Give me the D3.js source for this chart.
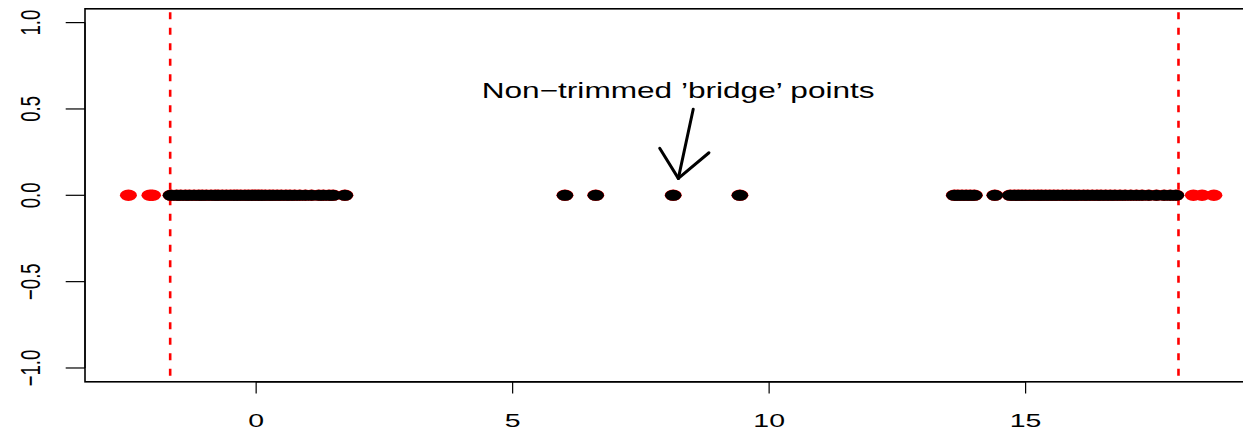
<!DOCTYPE html>
<html><head><meta charset="utf-8">
<script src="https://cdn.jsdelivr.net/npm/d3@7"></script>
<style>html,body{margin:0;padding:0;background:#fff;}svg{display:block;}</style>
</head><body>
<svg id="chart" width="1243" height="433"></svg>
<script>
// ---- data ----
const xValues = [
  -2.49, -2.07, -2.02,
  -1.66, -1.55, -1.47, -1.38, -1.30, -1.21, -1.12, -1.05, -0.97, -0.88, -0.80, -0.74, -0.66, -0.58,
  -0.50, -0.43, -0.37, -0.30, -0.22, -0.15, -0.08, -0.02, 0.05, 0.11, 0.18, 0.26, 0.33, 0.41, 0.49,
  0.58, 0.66, 0.75, 0.85, 0.96, 1.08, 1.22, 1.31, 1.42, 1.50, 1.73,
  6.02, 6.62, 8.13, 9.43,
  13.61, 13.68, 13.76, 13.84, 13.92, 14.00, 14.40, 14.70, 14.78, 14.86, 14.93, 15.00, 15.08, 15.16,
  15.24, 15.31, 15.39, 15.47, 15.55, 15.63, 15.72, 15.80, 15.88, 15.96, 16.04, 16.13, 16.21, 16.30,
  16.39, 16.47, 16.56, 16.65, 16.74, 16.84, 16.94, 17.05, 17.16, 17.27, 17.40, 17.55, 17.70, 17.82, 17.93,
  18.27, 18.44, 18.67
];
const yValue = 0;
const trimBounds = [-1.676, 17.98];
const xTicks = [0, 5, 10, 15];
const yTicks = [-1.0, -0.5, 0.0, 0.5, 1.0];
const yTickLabels = ["\u22121.0", "\u22120.5", "0.0", "0.5", "1.0"];
const annotationText = "Non\u2212trimmed \u2019bridge\u2019 points";
const arrowFrom = [8.52, 0.498];
const arrowTo = [8.23, 0.098];

// ---- layout ----
const SX = 1.53; // horizontal stretch of the picture
const svg = d3.select("#chart");
const plotLeft = 85, plotRight = 1257.3, plotTop = 8.8, plotBottom = 381.8;

const ext = d3.extent(xValues);
const pad = (ext[1] - ext[0]) * 0.04;
const x = d3.scaleLinear().domain([ext[0] - pad, ext[1] + pad]).range([plotLeft, plotRight]);
const y = d3.scaleLinear().domain([-1.08, 1.08]).range([plotBottom, plotTop]);

const font = "'Liberation Sans', Arial, Helvetica, sans-serif";

// trim lines
svg.selectAll("line.trim").data(trimBounds).join("line")
  .attr("class", "trim")
  .attr("x1", d => x(d)).attr("x2", d => x(d))
  .attr("y1", plotTop + 1).attr("y2", plotBottom)
  .attr("stroke", "#ff0000").attr("stroke-width", 2.6)
  .attr("stroke-dasharray", "7,8.5").attr("stroke-dashoffset", -2.5);

// points: all in red (slightly larger), non-trimmed in black on top
svg.selectAll("ellipse.all").data(xValues).join("ellipse")
  .attr("class", "all")
  .attr("cx", d => x(d)).attr("cy", y(yValue))
  .attr("rx", 8.5).attr("ry", 5.7).attr("fill", "#ff0000");
svg.selectAll("ellipse.keep").data(xValues.filter(d => d >= trimBounds[0] && d <= trimBounds[1])).join("ellipse")
  .attr("class", "keep")
  .attr("cx", d => x(d)).attr("cy", y(yValue))
  .attr("rx", 8.2).attr("ry", 5.45).attr("fill", "#000");

// box
svg.append("rect").attr("x", plotLeft).attr("y", plotTop)
  .attr("width", plotRight - plotLeft).attr("height", plotBottom - plotTop)
  .attr("fill", "none").attr("stroke", "#000").attr("stroke-width", 1.6);

// x axis
const xa = svg.append("g");
xa.append("line").attr("x1", x(xTicks[0])).attr("x2", x(xTicks[xTicks.length - 1]))
  .attr("y1", plotBottom).attr("y2", plotBottom).attr("stroke", "#000").attr("stroke-width", 1.2);
xa.selectAll("line.tk").data(xTicks).join("line").attr("class", "tk")
  .attr("x1", d => x(d)).attr("x2", d => x(d))
  .attr("y1", plotBottom).attr("y2", plotBottom + 11.7)
  .attr("stroke", "#000").attr("stroke-width", 1.2);
xa.selectAll("text").data(xTicks).join("text")
  .attr("transform", d => `translate(${x(d)},426.7) scale(${SX},1)`)
  .attr("text-anchor", "middle").attr("font-family", font).attr("font-size", 18.6)
  .attr("fill", "#000").text(d => d);

// y axis
const ya = svg.append("g");
ya.append("line").attr("x1", plotLeft).attr("x2", plotLeft)
  .attr("y1", y(yTicks[0])).attr("y2", y(yTicks[yTicks.length - 1])).attr("stroke", "#000").attr("stroke-width", 1.2);
ya.selectAll("line.tk").data(yTicks).join("line").attr("class", "tk")
  .attr("x1", plotLeft - 19.3).attr("x2", plotLeft)
  .attr("y1", d => y(d)).attr("y2", d => y(d))
  .attr("stroke", "#000").attr("stroke-width", 1.2);
ya.selectAll("text").data(yTicks).join("text")
  .attr("transform", d => `translate(40,${y(d)}) scale(${SX},1) rotate(-90)`)
  .attr("text-anchor", "middle").attr("font-family", font).attr("font-size", 18.6)
  .attr("fill", "#000").text((d, i) => yTickLabels[i]);

// annotation text
svg.append("text")
  .attr("x", 481.7).attr("y", 97.7)
  .attr("font-family", font).attr("font-size", 22.3).attr("fill", "#000")
  .attr("textLength", 393).attr("lengthAdjust", "spacingAndGlyphs")
  .text(annotationText);

// arrow
const ax0 = x(arrowFrom[0]), ay0 = y(arrowFrom[1]);
const ax1 = x(arrowTo[0]), ay1 = y(arrowTo[1]);
const arrowG = svg.append("g").attr("stroke", "#000").attr("stroke-width", 3).attr("stroke-linecap", "round").attr("fill", "none");
arrowG.append("line").attr("x1", ax0).attr("y1", ay0).attr("x2", ax1).attr("y2", ay1);
// head: computed in unstretched space, 30 degrees, then stretched
const ux = (ax0 - ax1) / SX, uy = (ay0 - ay1);
const len = Math.hypot(ux, uy);
const dx = ux / len, dy = uy / len;
const headLen = 32.5, ang = Math.PI / 6;
[ang, -ang].forEach(a => {
  const hx = dx * Math.cos(a) - dy * Math.sin(a);
  const hy = dx * Math.sin(a) + dy * Math.cos(a);
  arrowG.append("line").attr("x1", ax1).attr("y1", ay1)
    .attr("x2", ax1 + hx * headLen * SX).attr("y2", ay1 + hy * headLen);
});
</script>
</body></html>
